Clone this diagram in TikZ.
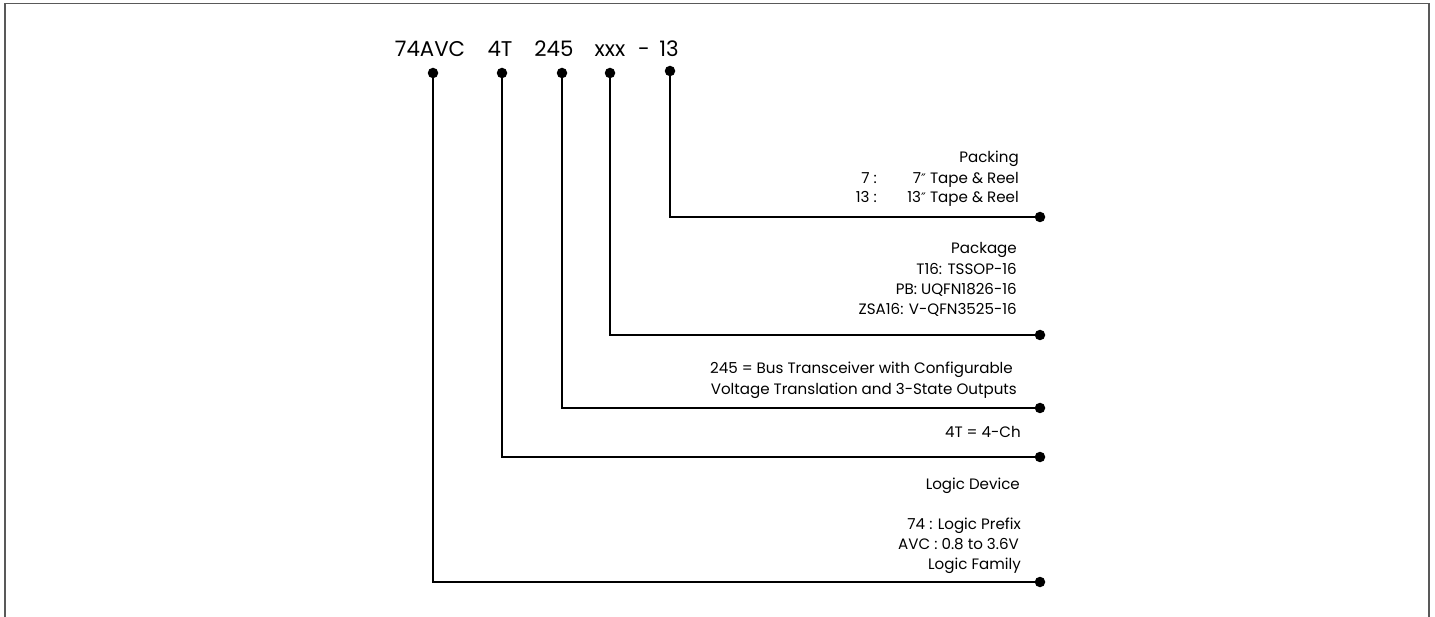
\documentclass[tikz,border=0pt]{standalone}
\usepackage{fontspec}
\setmainfont{Poppins}
\newfontfamily\symfont{DejaVu Sans}
\newcommand{\inch}{{\symfont\fontsize{13}{15}\selectfont ″}}
\begin{document}
\begin{tikzpicture}[x=1pt,y=-1pt,
  conn/.style={line width=1.8pt,black},
  pin/.style={circle,fill=black,inner sep=0pt,minimum size=10.5pt},
  frame/.style={line width=1.6pt,black!65},
  top/.style={anchor=base,inner sep=0pt,font=\fontsize{21.3}{24}\selectfont},
  lbl/.style={anchor=base east,inner sep=0pt,font=\fontsize{15.1}{18}\selectfont}]
\useasboundingbox (0,0) rectangle (1435,617);
\draw[frame] (5,617) -- (5,3.5) -- (1429,3.5) -- (1429,617);
% part number
\node[top] (p1) at (430,57) {74AVC};
\node[top] (p2) at (500,57) {4T};
\node[top] (p3) at (554,57) {245};
\node[top] (p4) at (610,57) {xxx};
\node[top,anchor=base east] (p5) at (679,57) {-\hspace{0.45em}13};
% pins
\coordinate (s1) at (433,73);
\coordinate (s2) at (502,73);
\coordinate (s3) at (562,73);
\coordinate (s4) at (610,73);
\coordinate (s5) at (670,71);
\coordinate (e1) at (1040,582);
\coordinate (e2) at (1040,457);
\coordinate (e3) at (1040,408);
\coordinate (e4) at (1040,335);
\coordinate (e5) at (1040,217);
\foreach \i in {1,...,5}{
  \draw[conn] (s\i) |- (e\i);
  \node[pin] at (s\i) {};
  \node[pin] at (e\i) {};
}
% packing
\node[lbl] (k1) at (1019,163) {Packing};
\node[lbl] (k2a) at (877,184) {7 :};
\node[lbl] (k2b) at (1019,184) {7\inch{} Tape \& Reel};
\node[lbl] (k3a) at (877,203) {13 :};
\node[lbl] (k3b) at (1019,203) {13\inch{} Tape \& Reel};
% package
\node[lbl] (g1) at (1017,254) {Package};
\node[lbl] (g2) at (1017,275) {T16: TSSOP-16};
\node[lbl] (g3) at (1017,295) {PB: UQFN1826-16};
\node[lbl] (g4) at (1017,315) {ZSA16: V-QFN3525-16};
% 245
\node[lbl] (f1) at (1013,374) {245 = Bus Transceiver with Configurable};
\node[lbl] (f2) at (1017,395) {Voltage Translation and 3-State Outputs};
% 4T
\node[lbl] (c1) at (1021,437) {4T = 4-Ch};
% logic
\node[lbl] (l1) at (1020,489) {Logic Device};
\node[lbl] (l2) at (1021,529) {74 : Logic Prefix};
\node[lbl] (l3) at (1019,549) {AVC : 0.8 to 3.6V};
\node[lbl] (l4) at (1021,569) {Logic Family};
\end{tikzpicture}
\end{document}
